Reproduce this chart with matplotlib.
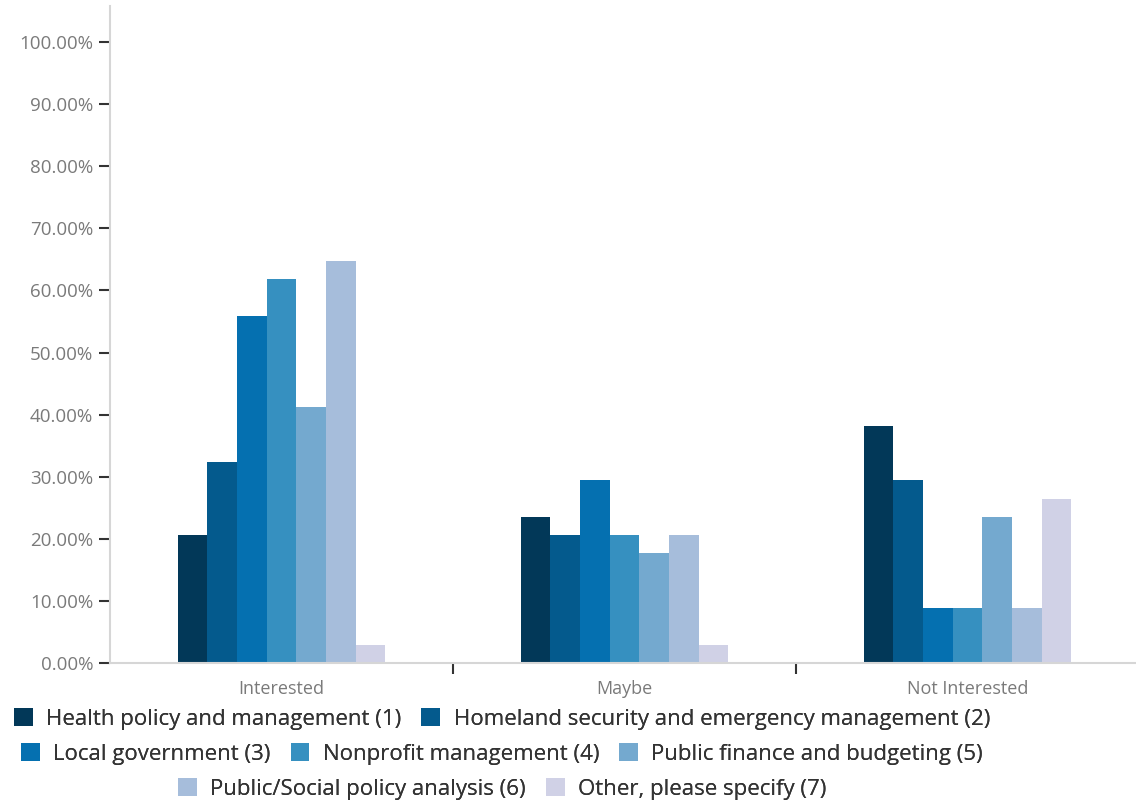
import numpy as np
import matplotlib
matplotlib.use("Agg")
import matplotlib.pyplot as plt
from matplotlib.patches import Patch
from matplotlib.ticker import FixedLocator, PercentFormatter

plt.rcParams["font.family"] = ["Open Sans", "DejaVu Sans"]

categories = ["Interested", "Maybe", "Not Interested"]
series_names = [
    "Health policy and management (1)",
    "Homeland security and emergency management (2)",
    "Local government (3)",
    "Nonprofit management (4)",
    "Public finance and budgeting (5)",
    "Public/Social policy analysis (6)",
    "Other, please specify (7)",
]
# percent of respondents per category, one list per series
health = [20.59, 23.53, 38.24]
homeland = [32.35, 20.59, 29.41]
local_gov = [55.88, 29.41, 8.82]
nonprofit = [61.76, 20.59, 8.82]
public_finance = [41.18, 17.65, 23.53]
policy_analysis = [64.71, 20.59, 8.82]
other = [2.94, 2.94, 26.47]

colors = ["#023858", "#045a8d", "#0570b0", "#3690c0", "#74a9cf", "#a6bddb", "#d0d1e6"]
series = [health, homeland, local_gov, nonprofit, public_finance, policy_analysis, other]

fig = plt.figure(figsize=(11.36, 8.05), dpi=100)
ax = fig.add_axes([110 / 1136, 1 - 663 / 805, 1026 / 1136, 657 / 805])

x = np.arange(len(categories))
bw = 0.0866
for i, (vals, c) in enumerate(zip(series, colors)):
    ax.bar(x + (i - 3) * bw, vals, width=bw, color=c, linewidth=0)

ax.set_xlim(-0.5, 2.5 - 3 / 343)
ax.set_ylim(0, 105.8)

ax.set_yticks(np.arange(0, 101, 10))
ax.yaxis.set_major_formatter(PercentFormatter(decimals=2))
ax.tick_params(axis="y", direction="out", length=8, width=1.5, color="#333333",
               labelsize=13.5, labelcolor="#7a7a7a", pad=4)

# category boundaries get tick marks, labels sit at category centres
ax.xaxis.set_major_locator(FixedLocator([0.5, 1.5]))
ax.xaxis.set_minor_locator(FixedLocator(x))
ax.set_xticklabels([], minor=False)
ax.set_xticklabels(categories, minor=True)
ax.tick_params(axis="x", which="major", direction="out", length=8, width=1.5,
               color="#333333")
ax.tick_params(axis="x", which="minor", length=0, labelsize=13,
               labelcolor="#7a7a7a", pad=12)

for side in ("top", "right"):
    ax.spines[side].set_visible(False)
for side in ("left", "bottom"):
    ax.spines[side].set_color("#d6d6d6")
    ax.spines[side].set_linewidth(1.5)

handles = [Patch(facecolor=c, edgecolor="none") for c in colors]
rows = [(0, 2, 719), (2, 5, 754), (5, 7, 789)]
for start, stop, ypix in rows:
    leg = fig.legend(handles[start:stop], series_names[start:stop],
                     ncol=stop - start, loc="center",
                     bbox_to_anchor=(502 / 1136, 1 - ypix / 805),
                     frameon=False, fontsize=16, handlelength=0.85,
                     handleheight=0.85, handletextpad=0.6, columnspacing=0.9,
                     borderpad=0, labelcolor="#333333")
    fig.add_artist(leg)

fig.savefig("out.png", dpi=100, facecolor="white")
